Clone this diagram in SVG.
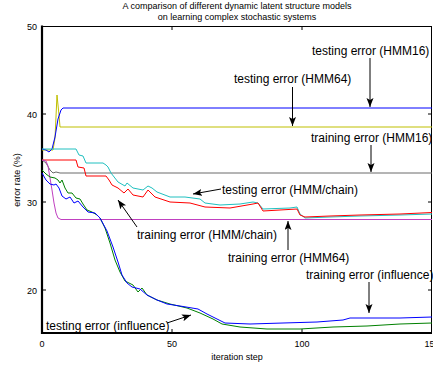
<svg xmlns="http://www.w3.org/2000/svg" width="433" height="366" viewBox="0 0 433 366">
<style>
text{font-family:"Liberation Sans",Arial,sans-serif;fill:#000}
.t{font-size:9px}
.lbl{font-size:12px}
.c{fill:none;stroke-width:1;stroke-linejoin:round}
.ax{stroke:#000;fill:none}
.arr{stroke:#000;stroke-width:1;fill:none;marker-end:url(#ah)}
</style>
<defs>
<marker id="ah" markerUnits="userSpaceOnUse" markerWidth="10" markerHeight="8" refX="9" refY="3.5" orient="auto">
<path d="M0,0 L9,3.5 L0,7 L2,3.5 z" fill="#000"/>
</marker>
</defs>
<rect width="433" height="366" fill="#fff"/>
<g id="title">
<text class="t" x="237" y="9" text-anchor="middle">A comparison of different dynamic latent structure models</text>
<text class="t" x="237" y="20" text-anchor="middle">on learning complex stochastic systems</text>
</g>
<g id="axes">
<line class="ax" x1="42" y1="26.5" x2="432" y2="26.5" stroke-width="1.2"/>
<line class="ax" x1="431.5" y1="26" x2="431.5" y2="333" stroke-width="1"/>
<line class="ax" x1="42" y1="25.5" x2="42" y2="334" stroke-width="2.2"/>
<line class="ax" x1="41" y1="333" x2="432" y2="333" stroke-width="2"/>
<path class="ax" d="M42,114 h4 M42,202 h4 M42,290 h4 M432,114 h-4 M432,202 h-4 M432,290 h-4 M172,26 v4 M302,26 v4 M172,333 v-4 M302,333 v-4" stroke-width="1"/>
<text class="t" x="37" y="29.5" text-anchor="end">50</text>
<text class="t" x="37" y="117.5" text-anchor="end">40</text>
<text class="t" x="37" y="205.5" text-anchor="end">30</text>
<text class="t" x="37" y="293.5" text-anchor="end">20</text>
<text class="t" x="42" y="347" text-anchor="middle">0</text>
<text class="t" x="172" y="347" text-anchor="middle">50</text>
<text class="t" x="302" y="347" text-anchor="middle">100</text>
<text class="t" x="432" y="347" text-anchor="middle">150</text>
<text class="t" x="237" y="360" text-anchor="middle">iteration step</text>
<text class="t" transform="translate(19.5,180) rotate(-90)" text-anchor="middle">error rate (%)</text>
</g>
<g id="curves">
<polyline id="train-hmm16" class="c" stroke="#6a6a6a" points="42,160 46,163 50,170 53,173 56,172 60,173 432,173"/>
<polyline id="test-hmm64" class="c" stroke="#bfbf00" points="42,150 53,150 55,138 57,95 59,115 60,127 432,127"/>
<polyline id="test-hmm16" class="c" stroke="#0000ff" points="42,149 46,150 49,152 52,149 55,137 58,119 61,110 63,108 432,108"/>
<polyline id="test-chain" class="c" stroke="#20c0c0" points="42,149 76,149 79,155 83,156 86,163 103,163 106,165 108,167 111,173 118,182 125,186 127,183 133,188 143,190 148,186 152,188 157,192 170,197 185,197 200,199 205,203 220,205 240,204 253,202 258,203 263,209 290,208 297,207 300,214 305,218 330,217 360,216 400,215 432,214"/>
<polyline id="train-chain" class="c" stroke="#ff0000" points="42,160 76,160 78,167 84,168 86,176 106,176 109,180 112,185 118,188 124,193 128,189 133,195 143,197 148,190 155,197 170,202 190,203 205,207 230,208 253,204 258,203 263,211 297,209 300,215 305,217 330,216 360,215 400,214 432,212.5"/>
<polyline id="train-hmm64" class="c" stroke="#c040c0" points="42,160 46,161 48,166 50,178 52,190 54,203 56,213 58,218 61,219.5 432,219.5"/>
<polyline id="train-infl" class="c" stroke="#008000" points="42,170 46,174 50,177 55,178 58,180 60,183 62,180 65,188 68,193 72,193 76,198 80,199 83,204 87,210 92,212 97,215 100,218 105,228 110,243 115,260 120,272 125,281 133,285 138,292 142,288 147,295 157,300 170,304 187,308 200,313 213,319 222,324 240,327 267,329 300,329 333,327 367,326 400,324 432,323"/>
<polyline id="test-infl" class="c" stroke="#0000ff" points="42,173 46,180 50,184 54,185 56,184 59,188 62,196 66,199 70,197 74,203 78,201 83,207 88,212 95,213 100,218 107,231 113,247 118,262 122,275 127,283 132,287 140,289 147,295 157,300 167,304 180,306 198,309 207,314 215,318 225,323 250,324 283,323 317,322 343,320 350,318 400,318 432,317"/>
</g>
<g id="connectors">
<line class="arr" x1="370" y1="58" x2="370" y2="107"/>
<line class="arr" x1="292.5" y1="87" x2="292.5" y2="126"/>
<line class="arr" x1="371" y1="145" x2="371" y2="172"/>
<line class="arr" x1="221" y1="189" x2="193" y2="194"/>
<line class="arr" x1="137" y1="227" x2="118" y2="200"/>
<line class="arr" x1="288" y1="250" x2="288" y2="221"/>
<line class="arr" x1="369" y1="282" x2="369" y2="313"/>
<line class="arr" x1="167" y1="323" x2="191" y2="315"/>
</g>
<g id="label-test-hmm16"><text class="lbl" x="312" y="55">testing error (HMM16)</text></g>
<g id="label-test-hmm64"><text class="lbl" x="234" y="83">testing error (HMM64)</text></g>
<g id="label-train-hmm16"><text class="lbl" x="311" y="142">training error (HMM16)</text></g>
<g id="label-test-chain"><text class="lbl" x="222" y="194">testing error (HMM/chain)</text></g>
<g id="label-train-chain"><text class="lbl" x="137" y="239">training error (HMM/chain)</text></g>
<g id="label-train-hmm64"><text class="lbl" x="228" y="262">training error (HMM64)</text></g>
<g id="label-train-infl"><text class="lbl" x="306" y="279">training error (influence)</text></g>
<g id="label-test-infl"><text class="lbl" x="46" y="330">testing error (influence)</text></g>
</svg>
